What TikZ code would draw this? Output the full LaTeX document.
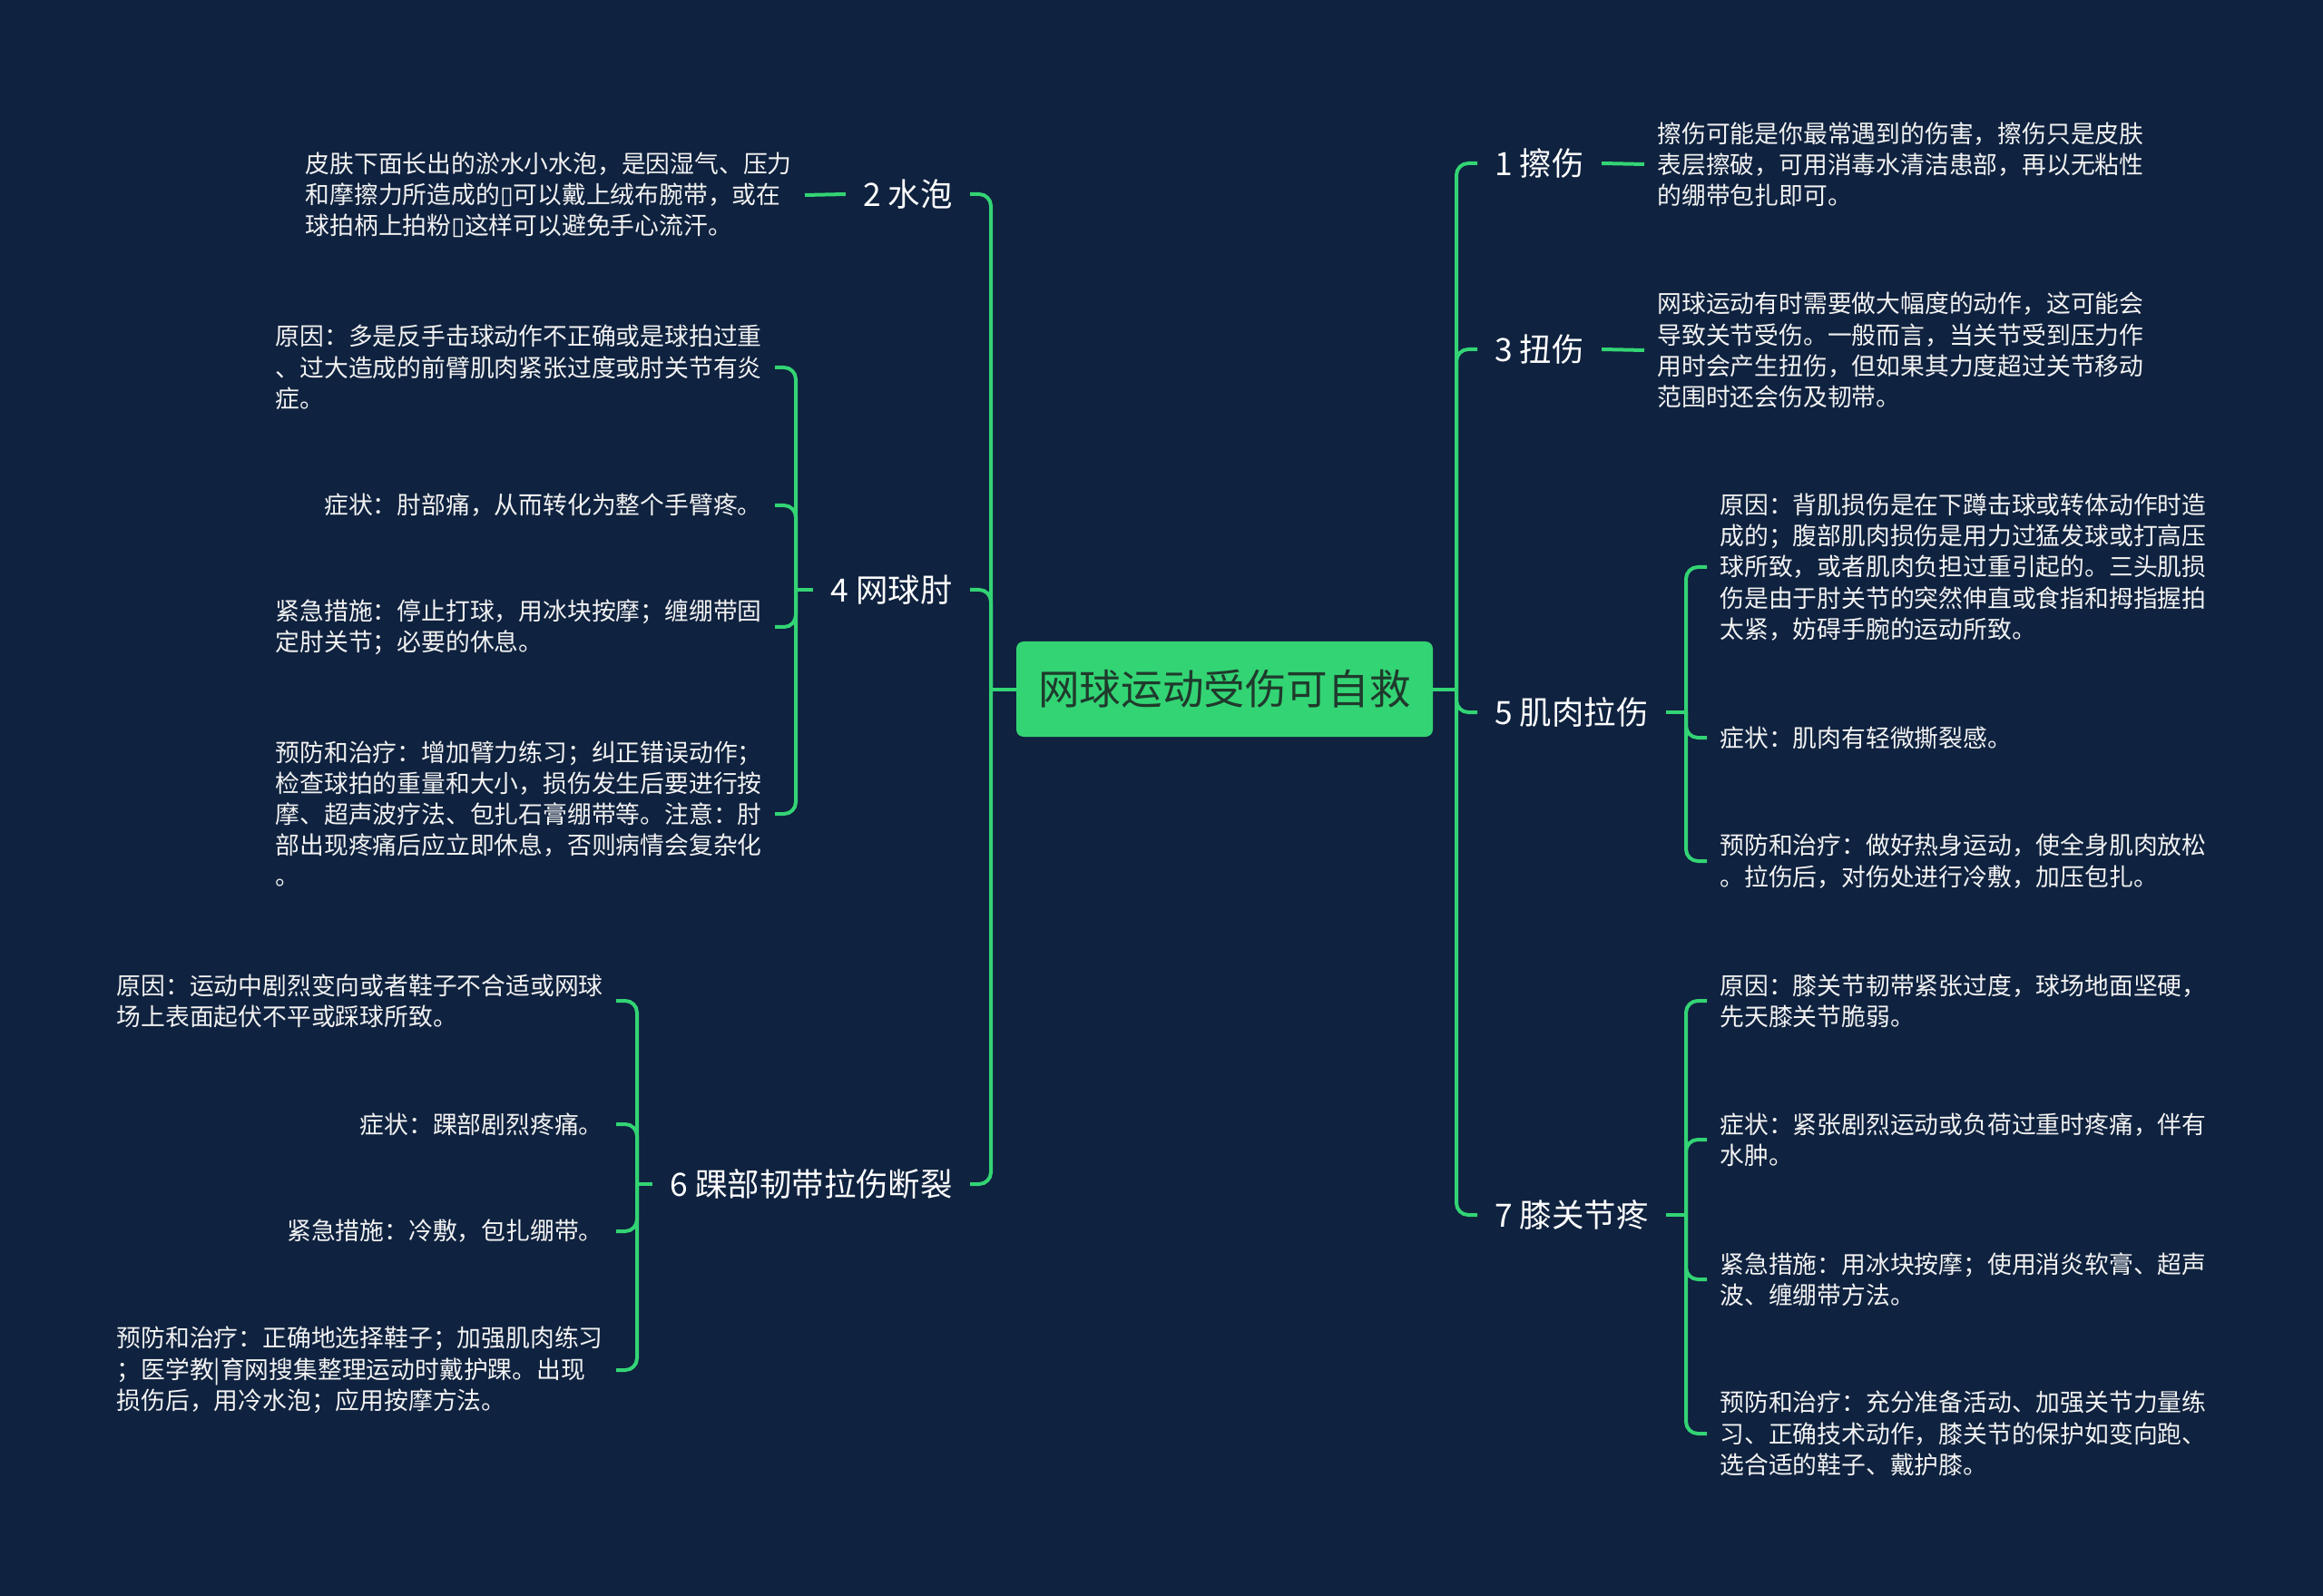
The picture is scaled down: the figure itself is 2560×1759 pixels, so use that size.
\documentclass[tikz,border=0pt]{standalone}
\usepackage{fontspec}
\setmainfont{Noto Sans CJK SC}
\newfontfamily\dejavu{DejaVu Sans}
\definecolor{bgnavy}{HTML}{0F223F}
\definecolor{mapgreen}{HTML}{33D474}
\definecolor{rootink}{HTML}{1F3A2C}
\definecolor{leafink}{HTML}{F2F2F2}
\newcommand{\tofu}{{\dejavu ▯}}

\begin{document}
\begin{tikzpicture}
[
    x=0.5pt, y=-0.5pt,
    link/.style={draw=mapgreen, line width=2pt, rounded corners=6.5pt},
    rootbox/.style={fill=mapgreen, text=rootink, rounded corners=4pt, minimum width=229.5pt, minimum height=52.5pt, inner sep=0pt, font=\fontsize{22.8pt}{27pt}\selectfont},
    topic/.style={text=white, inner xsep=9.5pt, inner ysep=2pt, font=\fontsize{17.7pt}{21pt}\selectfont},
    leaf/.style={text=leafink, align=left, inner xsep=7pt, inner ysep=1pt, font=\fontsize{13.4pt}{17.1pt}\selectfont}
]
    \fill [bgnavy] (0,0) rectangle (2560,1759);
    \useasboundingbox (0,0) rectangle (2560,1759);

    % centre
    \node [rootbox] (root) at (1349.5,759.5) {网球运动受伤可自救};
    \coordinate (rtrunk) at (1605,759.5);
    \coordinate (ltrunk) at (1092,759.5);

    % right side
    \node [topic, anchor=west] (lbl1) at (1628,180) {1 擦伤};
    \node [topic, anchor=west] (lbl3) at (1628,385) {3 扭伤};
    \node [topic, anchor=west] (lbl5) at (1628,785) {5 肌肉拉伤};
    \node [topic, anchor=west] (lbl7) at (1628,1339) {7 膝关节疼};

    \node [leaf, anchor=west] (leaf1) at (1812,181) {擦伤可能是你最常遇到的伤害，擦伤只是皮肤\\表层擦破，可用消毒水清洁患部，再以无粘性\\的绷带包扎即可。};
    \node [leaf, anchor=west] (leaf3) at (1812,386) {网球运动有时需要做大幅度的动作，这可能会\\导致关节受伤。一般而言，当关节受到压力作\\用时会产生扭伤，但如果其力度超过关节移动\\范围时还会伤及韧带。};

    \coordinate (br5) at (1858,785);
    \node [leaf, anchor=west] (leaf5a) at (1881,625) {原因：背肌损伤是在下蹲击球或转体动作时造\\成的；腹部肌肉损伤是用力过猛发球或打高压\\球所致，或者肌肉负担过重引起的。三头肌损\\伤是由于肘关节的突然伸直或食指和拇指握拍\\太紧，妨碍手腕的运动所致。};
    \node [leaf, anchor=west] (leaf5b) at (1881,813) {症状：肌肉有轻微撕裂感。};
    \node [leaf, anchor=west] (leaf5c) at (1881,949) {预防和治疗：做好热身运动，使全身肌肉放松\\。拉伤后，对伤处进行冷敷，加压包扎。};

    \coordinate (br7) at (1858,1339);
    \node [leaf, anchor=west] (leaf7a) at (1881,1103) {原因：膝关节韧带紧张过度，球场地面坚硬，\\先天膝关节脆弱。};
    \node [leaf, anchor=west] (leaf7b) at (1881,1256) {症状：紧张剧烈运动或负荷过重时疼痛，伴有\\水肿。};
    \node [leaf, anchor=west] (leaf7c) at (1881,1410) {紧急措施：用冰块按摩；使用消炎软膏、超声\\波、缠绷带方法。};
    \node [leaf, anchor=west] (leaf7d) at (1881,1580) {预防和治疗：充分准备活动、加强关节力量练\\习、正确技术动作，膝关节的保护如变向跑、\\选合适的鞋子、戴护膝。};

    % left side
    \node [topic, anchor=east] (lbl2) at (1069,214) {2 水泡};
    \node [topic, anchor=east] (lbl4) at (1069,650) {4 网球肘};
    \node [topic, anchor=east] (lbl6) at (1069,1305) {6 踝部韧带拉伤断裂};

    \node [leaf, anchor=east] (leaf2) at (887,215) {皮肤下面长出的淤水小水泡，是因湿气、压力\\和摩擦力所造成的\tofu 可以戴上绒布腕带，或在\\球拍柄上拍粉\tofu 这样可以避免手心流汗。};

    \coordinate (br4) at (877,650);
    \node [leaf, anchor=east] (leaf4a) at (854,405) {原因：多是反手击球动作不正确或是球拍过重\\、过大造成的前臂肌肉紧张过度或肘关节有炎\\症。};
    \node [leaf, anchor=east] (leaf4b) at (854,557) {症状：肘部痛，从而转化为整个手臂疼。};
    \node [leaf, anchor=east] (leaf4c) at (854,691) {紧急措施：停止打球，用冰块按摩；缠绷带固\\定肘关节；必要的休息。};
    \node [leaf, anchor=east] (leaf4d) at (854,897) {预防和治疗：增加臂力练习；纠正错误动作；\\检查球拍的重量和大小，损伤发生后要进行按\\摩、超声波疗法、包扎石膏绷带等。注意：肘\\部出现疼痛后应立即休息，否则病情会复杂化\\。};

    \coordinate (br6) at (702,1305);
    \node [leaf, anchor=east] (leaf6a) at (679,1103) {原因：运动中剧烈变向或者鞋子不合适或网球\\场上表面起伏不平或踩球所致。};
    \node [leaf, anchor=east] (leaf6b) at (679,1239) {症状：踝部剧烈疼痛。};
    \node [leaf, anchor=east] (leaf6c) at (679,1357) {紧急措施：冷敷，包扎绷带。};
    \node [leaf, anchor=east] (leaf6d) at (679,1510) {预防和治疗：正确地选择鞋子；加强肌肉练习\\；医学教|育网搜集整理运动时戴护踝。出现\\损伤后，用冷水泡；应用按摩方法。};

    % connectors
    \draw [link] (root.east) -- (rtrunk);
    \draw [link] (root.west) -- (ltrunk);
    \foreach \t in {lbl1,lbl3,lbl5,lbl7}
        \draw [link] (rtrunk) |- (\t.west);
    \foreach \t in {lbl2,lbl4,lbl6}
        \draw [link] (ltrunk) |- (\t.east);

    \draw [link] (lbl1.east) -- (leaf1.west);
    \draw [link] (lbl3.east) -- (leaf3.west);
    \draw [link] (lbl2.west) -- (leaf2.east);

    \draw [link] (lbl5.east) -- (br5);
    \foreach \t in {leaf5a,leaf5b,leaf5c}
        \draw [link] (br5) |- (\t.west);
    \draw [link] (lbl7.east) -- (br7);
    \foreach \t in {leaf7a,leaf7b,leaf7c,leaf7d}
        \draw [link] (br7) |- (\t.west);
    \draw [link] (lbl4.west) -- (br4);
    \foreach \t in {leaf4a,leaf4b,leaf4c,leaf4d}
        \draw [link] (br4) |- (\t.east);
    \draw [link] (lbl6.west) -- (br6);
    \foreach \t in {leaf6a,leaf6b,leaf6c,leaf6d}
        \draw [link] (br6) |- (\t.east);
\end{tikzpicture}
\end{document}
